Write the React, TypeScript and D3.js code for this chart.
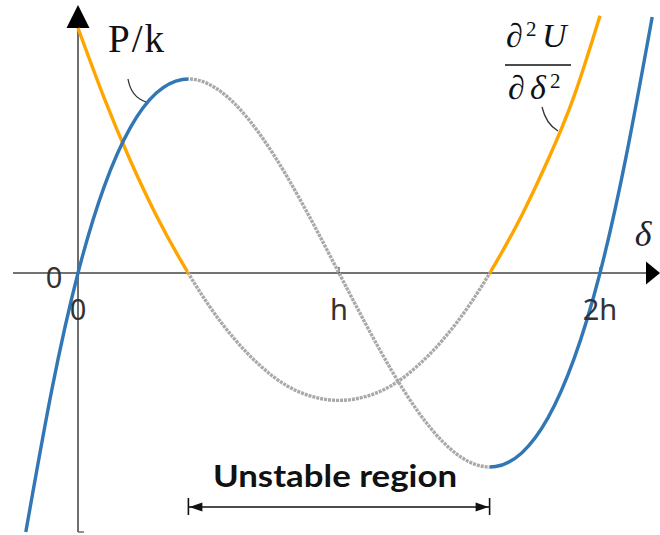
import React from "react";
import * as d3 from "d3";

// δ in multiples of h
const deltaP = [-0.2, -0.1, 0, 0.1, 0.2, 0.3, 0.4, 0.5, 0.6, 0.7, 0.8, 0.9, 1.0, 1.1, 1.2, 1.3, 1.4, 1.5, 1.6, 1.7, 1.8, 1.9, 2.0, 2.1, 2.2];
// P/k (normalised)
const loadP = [-0.514, -0.231, 0, 0.171, 0.288, 0.357, 0.384, 0.375, 0.336, 0.273, 0.192, 0.099, 0, -0.099, -0.192, -0.273, -0.336, -0.375, -0.384, -0.357, -0.288, -0.171, 0, 0.231, 0.508];

const deltaU = [0, 0.1, 0.2, 0.3, 0.4, 0.5, 0.6, 0.7, 0.8, 0.9, 1.0, 1.1, 1.2, 1.3, 1.4, 1.5, 1.6, 1.7, 1.8, 1.9, 2.0];
// ∂²U/∂δ² (normalised)
const stiffU = [2.0, 1.43, 0.92, 0.47, 0.08, -0.26, -0.54, -0.76, -0.92, -1.01, -1.04, -1.01, -0.92, -0.76, -0.54, -0.26, 0.08, 0.47, 0.92, 1.44, 2.1];

// stability limits (extrema of P/k)
const limitLo = 0.423;
const limitHi = 1.577;

const tickValues = [0, 1, 2];
const tickLabels = ["0", "h", "2h"];

const BLUE = "#3177b5";
const ORANGE = "#ffa500";
const GRAY = "#a9a9a9";

export default function App() {
  const W = 660;
  const H = 535;
  const x = d3.scaleLinear().domain([0, 2]).range([78, 600]);
  const yP = d3.scaleLinear().domain([-0.55, 0.55]).range([550.2, -4.2]);
  const yU = d3.scaleLinear().domain([-1, 2]).range([395.5, 28]);
  const x0 = x(0);
  const yAxis = yP(0);

  const ptsP = deltaP.map((d, i) => [d, loadP[i]] as [number, number]);
  const ptsU = deltaU.map((d, i) => [d, stiffU[i]] as [number, number]);

  const lineP = d3
    .line<[number, number]>()
    .x((d) => x(d[0]))
    .y((d) => yP(d[1]))
    .curve(d3.curveNatural);
  const lineU = d3
    .line<[number, number]>()
    .x((d) => x(d[0]))
    .y((d) => yU(d[1]))
    .curve(d3.curveNatural);

  const pathP = lineP(ptsP) ?? "";
  const pathU = lineU(ptsU) ?? "";

  const aL = x(limitLo);
  const aR = x(limitHi);
  const aY = 507;

  return (
    <div style={{ position: "absolute", left: 0, top: 0 }}>
      <svg width={W} height={H} style={{ display: "block", background: "#fff" }}>
        <defs>
          <clipPath id="stable">
            <rect x={0} y={0} width={aL} height={H} />
            <rect x={aR} y={0} width={W - aR} height={H} />
          </clipPath>
          <clipPath id="unstable">
            <rect x={aL} y={0} width={aR - aL} height={H} />
          </clipPath>
        </defs>

        {/* axes */}
        <line x1={x0} x2={x0} y1={26} y2={532} stroke="#6e6e6e" strokeWidth={2} />
        <line x1={x0} x2={x0 + 6} y1={532} y2={532} stroke="#6e6e6e" strokeWidth={1.5} />
        <polygon points={`${x0},5 ${x0 - 11.5},28 ${x0 + 11.5},28`} fill="#000" />
        <line x1={13} x2={648} y1={yAxis} y2={yAxis} stroke="#444" strokeWidth={1.5} />
        <polygon points={`660,${yAxis} 646,${yAxis - 11.5} 646,${yAxis + 11.5}`} fill="#000" />
        {tickValues.slice(1).map((t) => (
          <line key={t} x1={x(t)} x2={x(t)} y1={yAxis - 6} y2={yAxis} stroke="#444" strokeWidth={1.2} />
        ))}

        {/* curves: unstable part dotted grey, stable parts coloured */}
        <g clipPath="url(#unstable)">
          <path d={pathU} fill="none" stroke={GRAY} strokeWidth={3.4} strokeDasharray="3 1" />
          <path d={pathP} fill="none" stroke={GRAY} strokeWidth={3.4} strokeDasharray="3 1" />
        </g>
        <g clipPath="url(#stable)">
          <path d={pathU} fill="none" stroke={ORANGE} strokeWidth={3.4} />
          <path d={pathP} fill="none" stroke={BLUE} strokeWidth={3.4} />
        </g>

        {/* tick labels */}
        <g fontFamily="'Noto Sans', 'DejaVu Sans', sans-serif" fontSize={29} fill="#333">
          <text x={54} y={288} textAnchor="middle">0</text>
          {tickValues.map((t, i) => (
            <text key={t} x={x(t)} y={320} textAnchor="middle">
              {tickLabels[i]}
            </text>
          ))}
        </g>

        {/* δ axis label */}
        <text x={643} y={246} textAnchor="middle" fontFamily="'Liberation Serif', serif" fontStyle="italic" fontSize={36} fill="#222">
          δ
        </text>

        {/* P/k label */}
        <text x={108} y={52} fontFamily="'Liberation Serif', 'DejaVu Serif', serif" fontSize={39} fill="#111" letterSpacing={2}>
          P/k
        </text>
        <path d="M128,79 Q131,97 146,102" fill="none" stroke="#333" strokeWidth={1.3} />

        {/* ∂²U/∂δ² label */}
        <g fontFamily="'Liberation Serif', 'DejaVu Serif', serif" fill="#111" fontStyle="italic">
          <text x={506} y={47} fontSize={34}>∂</text>
          <text x={526} y={36} fontSize={21} fontStyle="normal">2</text>
          <text x={542} y={47} fontSize={34}>U</text>
          <line x1={505} x2={571} y1={65} y2={65} stroke="#111" strokeWidth={1.6} />
          <text x={508} y={99} fontSize={34}>∂</text>
          <text x={530} y={99} fontSize={34}>δ</text>
          <text x={550} y={88} fontSize={21} fontStyle="normal">2</text>
        </g>
        <path d="M542,107 Q546,124 558,131" fill="none" stroke="#333" strokeWidth={1.3} />

        {/* unstable region */}
        <text x={335} y={487} textAnchor="middle" fontFamily="'Lato', 'Open Sans', sans-serif" fontWeight="bold" fontSize={31} fill="#111" textLength={244} lengthAdjust="spacingAndGlyphs">
          Unstable region
        </text>
        <line x1={aL} x2={aR} y1={aY} y2={aY} stroke="#111" strokeWidth={1.6} />
        <line x1={aL} x2={aL} y1={aY - 9} y2={aY + 8} stroke="#111" strokeWidth={1.6} />
        <line x1={aR} x2={aR} y1={aY - 9} y2={aY + 8} stroke="#111" strokeWidth={1.6} />
        <polygon points={`${aL + 1},${aY} ${aL + 14},${aY - 4.5} ${aL + 14},${aY + 4.5}`} fill="#111" />
        <polygon points={`${aR - 1},${aY} ${aR - 14},${aY - 4.5} ${aR - 14},${aY + 4.5}`} fill="#111" />
      </svg>
    </div>
  );
}
